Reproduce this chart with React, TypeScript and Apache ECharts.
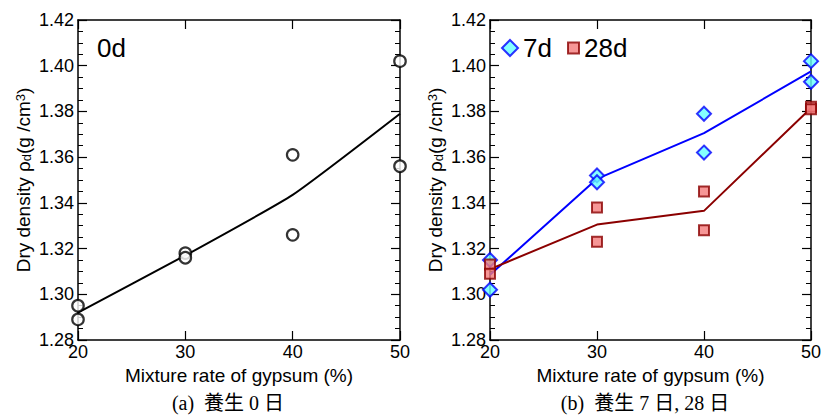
import React, { useEffect, useRef } from "react";
import * as echarts from "echarts";

const xTicks = [20, 30, 40, 50];
const ptsX = [20, 20, 30, 30, 40, 40, 50, 50];
const d0 = [1.295, 1.289, 1.318, 1.316, 1.361, 1.326, 1.402, 1.356];
const fit0 = [1.292, 1.317, 1.3435, 1.379];
const d7 = [1.315, 1.302, 1.352, 1.349, 1.379, 1.362, 1.402, 1.393];
const fit7 = [1.3085, 1.3505, 1.3705, 1.3975];
const d28 = [1.313, 1.309, 1.338, 1.323, 1.345, 1.328, 1.382, 1.381];
const fit28 = [1.311, 1.3305, 1.3365, 1.3815];

const FONT = "'Liberation Sans', Arial, sans-serif";
const SERIF = "'Liberation Serif', 'Noto Sans CJK JP', serif";

function pairs(xs: number[], ys: number[]) {
  return ys.map((y, i) => [xs[i], y]);
}

function xAxes(grid: number) {
  const base = {
    gridIndex: grid,
    type: "value" as const,
    min: 20,
    max: 50,
    interval: 10,
    axisLine: { show: true, onZero: false, lineStyle: { color: "#000", width: 1.5 } },
    axisTick: { show: true, inside: true, length: 9, lineStyle: { color: "#000", width: 1.2 } },
    splitLine: { show: false },
  };
  return [
    {
      ...base,
      position: "bottom",
      axisLabel: { color: "#000", fontSize: 18, fontFamily: FONT, margin: 3 },
      name: "Mixture rate of gypsum (%)",
      nameLocation: "middle",
      nameGap: 19,
      nameTextStyle: { color: "#000", fontSize: 19, fontFamily: FONT },
    },
    { ...base, position: "top", axisLabel: { show: false } },
  ];
}

function yAxes(grid: number) {
  const base = {
    gridIndex: grid,
    type: "value" as const,
    min: 1.28,
    max: 1.42,
    interval: 0.02,
    axisLine: { show: true, onZero: false, lineStyle: { color: "#000", width: 1.5 } },
    axisTick: { show: true, inside: true, length: 9, lineStyle: { color: "#000", width: 1.2 } },
    minorTick: { show: true, splitNumber: 4, length: 5, lineStyle: { color: "#000", width: 1 } },
    splitLine: { show: false },
    minorSplitLine: { show: false },
  };
  return [
    {
      ...base,
      position: "left",
      axisLabel: {
        color: "#000",
        fontSize: 18,
        fontFamily: FONT,
        margin: 4,
        formatter: (v: number) => v.toFixed(2),
      },
      name: "Dry density ρ{sub|d}(g /cm{sup|3})",
      nameLocation: "middle",
      nameGap: 44,
      nameRotate: 90,
      nameTextStyle: {
        color: "#000",
        fontSize: 19,
        fontFamily: FONT,
        rich: {
          sub: { fontSize: 13, fontFamily: FONT, color: "#000", verticalAlign: "bottom", lineHeight: 13, padding: [8, 0, 0, 0] },
          sup: { fontSize: 13, fontFamily: FONT, color: "#000", verticalAlign: "top", lineHeight: 13, padding: [0, 0, 8, 0] },
        },
      },
    },
    { ...base, position: "right", axisLabel: { show: false } },
  ];
}

export default function App() {
  const ref = useRef<HTMLDivElement>(null);
  useEffect(() => {
    if (!ref.current) return;
    const chart = echarts.init(ref.current, null, { renderer: "svg" });
    chart.setOption({
      animation: false,
      textStyle: { fontFamily: FONT },
      grid: [
        { left: 78, top: 20, width: 322, height: 320 },
        { left: 490, top: 20, width: 322, height: 320 },
      ],
      xAxis: [...xAxes(0), ...xAxes(1)],
      yAxis: [...yAxes(0), ...yAxes(1)],
      legend: [
        {
          left: 496,
          top: 30,
          data: [{ name: "7d", icon: "diamond" }],
          itemWidth: 16,
          itemHeight: 16,
          textStyle: { fontSize: 26, color: "#000", fontFamily: FONT },
          selectedMode: false,
        },
        {
          left: 562,
          top: 30,
          data: [{ name: "28d", icon: "rect" }],
          itemWidth: 11,
          itemHeight: 11,
          textStyle: { fontSize: 26, color: "#000", fontFamily: FONT },
          selectedMode: false,
        },
      ],
      graphic: [
        {
          type: "text",
          left: 97,
          top: 35,
          style: { text: "0d", fontSize: 26, fontFamily: FONT, fill: "#000" },
        },
        {
          type: "text",
          x: 228,
          y: 403,
          style: {
            text: "(a)  養生 0 日",
            fontSize: 20,
            fontFamily: SERIF,
            fill: "#000",
            align: "center",
            verticalAlign: "middle",
          },
        },
        {
          type: "text",
          x: 645,
          y: 403,
          style: {
            text: "(b)  養生 7 日, 28 日",
            fontSize: 20,
            fontFamily: SERIF,
            fill: "#000",
            align: "center",
            verticalAlign: "middle",
          },
        },
      ],
      series: [
        {
          name: "0d fit",
          type: "line",
          xAxisIndex: 0,
          yAxisIndex: 0,
          data: pairs(xTicks, fit0),
          symbol: "none",
          smooth: 0.15,
          lineStyle: { color: "#000", width: 2 },
          z: 2,
        },
        {
          name: "0d",
          type: "scatter",
          xAxisIndex: 0,
          yAxisIndex: 0,
          data: pairs(ptsX, d0),
          symbol: "circle",
          symbolSize: 11.5,
          itemStyle: { color: "#fff", borderColor: "#000", borderWidth: 2.2 },
          z: 3,
        },
        {
          name: "7d fit",
          type: "line",
          xAxisIndex: 2,
          yAxisIndex: 2,
          data: pairs(xTicks, fit7),
          symbol: "none",
          lineStyle: { color: "#0000ff", width: 2 },
          z: 2,
        },
        {
          name: "28d fit",
          type: "line",
          xAxisIndex: 2,
          yAxisIndex: 2,
          data: pairs(xTicks, fit28),
          symbol: "none",
          lineStyle: { color: "#8b0000", width: 2 },
          z: 2,
        },
        {
          name: "7d",
          type: "scatter",
          xAxisIndex: 2,
          yAxisIndex: 2,
          data: pairs(ptsX, d7),
          symbol: "diamond",
          symbolSize: 14,
          itemStyle: { color: "#66ffff", borderColor: "#0000ff", borderWidth: 2 },
          z: 3,
        },
        {
          name: "28d",
          type: "scatter",
          xAxisIndex: 2,
          yAxisIndex: 2,
          data: pairs(ptsX, d28),
          symbol: "rect",
          symbolSize: 10,
          itemStyle: { color: "#f47c7c", borderColor: "#8b0000", borderWidth: 2 },
          z: 4,
        },
      ],
    });
    return () => chart.dispose();
  }, []);
  return (
    <div
      ref={ref}
      style={{ position: "absolute", left: 0, top: 0, width: 824, height: 416, background: "#fff" }}
    />
  );
}
